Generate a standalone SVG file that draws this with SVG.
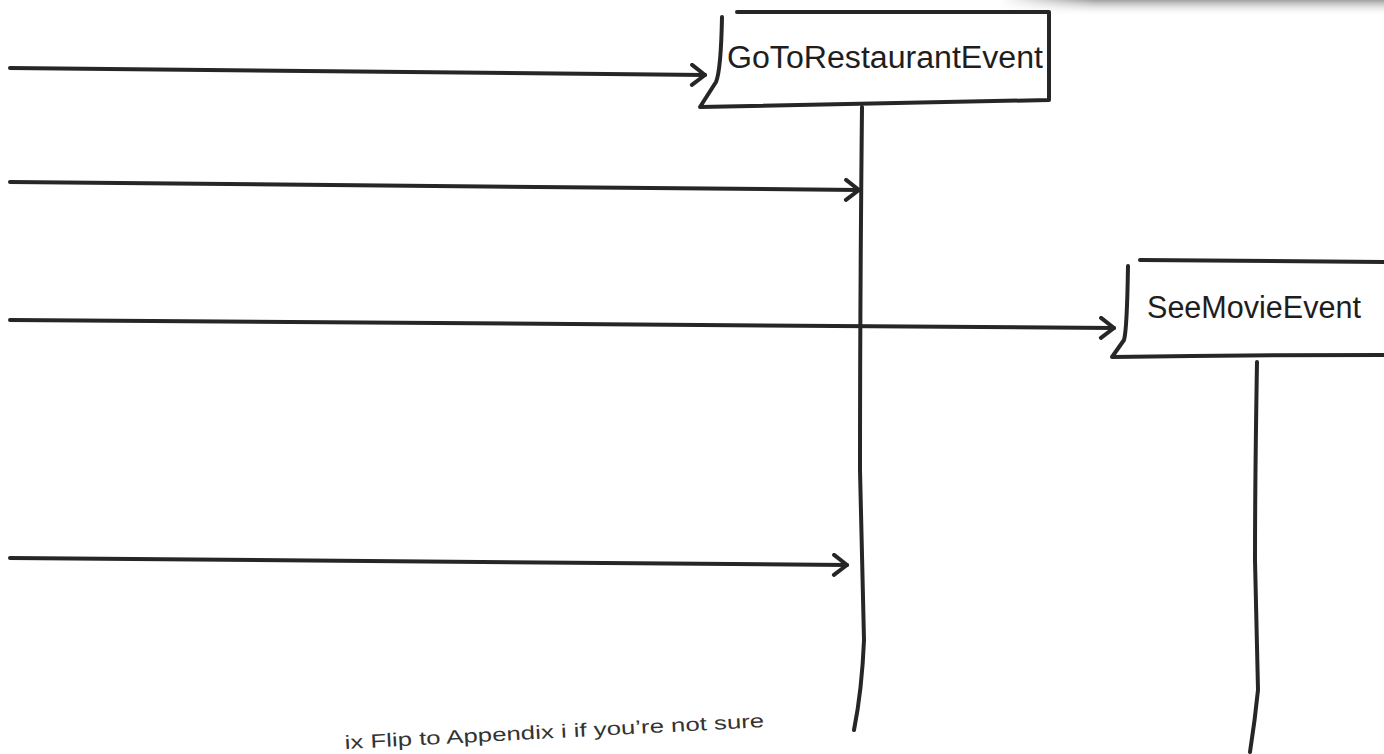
<svg xmlns="http://www.w3.org/2000/svg" width="1384" height="754" viewBox="0 0 1384 754">
<defs>
<linearGradient id="shade" x1="0" y1="0" x2="0" y2="1">
<stop offset="0" stop-color="#a0a0a0"/>
<stop offset="1" stop-color="#ffffff" stop-opacity="0"/>
</linearGradient>
<linearGradient id="fadeL" x1="0" y1="0" x2="1" y2="0">
<stop offset="0" stop-color="#ffffff" stop-opacity="1"/>
<stop offset="0.25" stop-color="#ffffff" stop-opacity="0"/>
</linearGradient>
<marker id="arr" markerUnits="userSpaceOnUse" markerWidth="30" markerHeight="30" refX="16" refY="12" orient="auto">
<path d="M3,2 L16,12 L3,22" fill="none" stroke="#262626" stroke-width="4" stroke-linecap="round" stroke-linejoin="round"/>
</marker>
<style>
.ln{fill:none;stroke:#262626;stroke-width:4;stroke-linecap:round;stroke-linejoin:round}
.lbl{font-family:"Liberation Sans",Arial,sans-serif;font-size:31px;fill:#1e1e1e}
.note{font-family:"Liberation Sans",Arial,sans-serif;font-size:19px;fill:#333}
</style>
</defs>
<rect width="1384" height="754" fill="#ffffff"/>
<rect x="1000" y="0" width="384" height="16" fill="url(#shade)"/>
<rect x="1000" y="0" width="384" height="16" fill="url(#fadeL)"/>
<g id="connectors">
<path class="ln" d="M10,68 L705,75" marker-end="url(#arr)"/>
<path class="ln" d="M10,182 L859,190" marker-end="url(#arr)"/>
<path class="ln" d="M10,320 L1114,328" marker-end="url(#arr)"/>
<path class="ln" d="M10,558 L847,565" marker-end="url(#arr)"/>
</g>
<g id="GoToRestaurantEvent">
<path class="ln" d="M737,12 L1049,12 L1049,100 Q880,104 700,107 L716,82 Q721,70 722,17"/>
<text class="lbl" x="727" y="68" textLength="316" lengthAdjust="spacingAndGlyphs">GoToRestaurantEvent</text>
<path class="ln" d="M862,107 Q860,300 860,470 Q863,600 864,640 Q862,690 854,730"/>
</g>
<g id="SeeMovieEvent">
<path class="ln" d="M1140,260 L1386,262 M1386,355 Q1250,355 1112,357 L1124,340 Q1127,330 1128,266"/>
<text class="lbl" x="1147" y="318" textLength="214" lengthAdjust="spacingAndGlyphs">SeeMovieEvent</text>
<path class="ln" d="M1257,362 Q1255,480 1255,560 Q1257,650 1258,690 Q1255,720 1250,752"/>
</g>
<text class="note" x="345" y="749" textLength="420" lengthAdjust="spacingAndGlyphs" transform="rotate(-3 345 749)">ix Flip to Appendix i if you’re not sure</text>
</svg>
